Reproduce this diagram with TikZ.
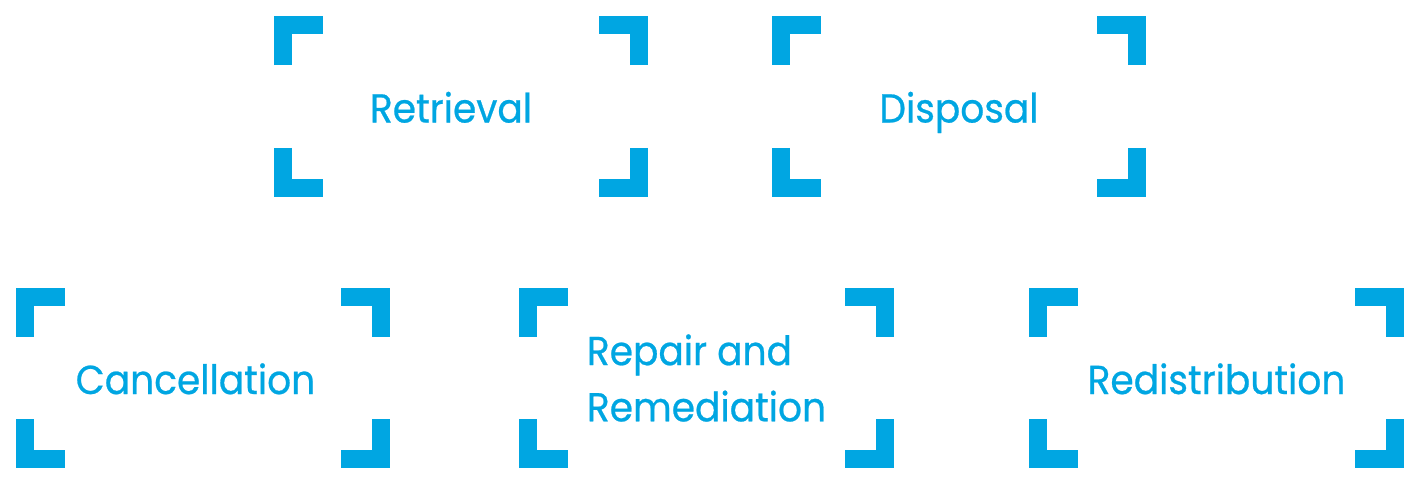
\documentclass[tikz,border=0pt]{standalone}
\usepackage{fontspec}
\setmainfont[FakeStretch=0.93, FakeBold=0.6]{Poppins}
\usetikzlibrary{positioning, calc}
\definecolor{celeste}{HTML}{00A6E2}
\tikzset{
  marco/.style={rectangle, minimum width=7.48cm, minimum height=3.6cm, inner sep=0pt,
                text=celeste, font=\fontsize{23pt}{32pt}\selectfont, align=left,
                text height=0.64cm, text depth=0cm},
  esquina/.style={line width=0.36cm, draw=celeste, miter limit=10, line cap=butt, line join=miter}
}

\begin{document}
\begin{tikzpicture}[x=0.02cm, y=-0.02cm]
  \useasboundingbox (0,0) rectangle (1416,477);
  \node (ret) [marco] at (461,106.5) {Retrieval\hspace*{0.4cm}};
  \node (dis) [marco] at (959,106.5) {Disposal};
  \node (can) [marco] at (203,378) {Cancellation\hspace*{0.3cm}};
  \node (rep) [marco, text height=, text depth=] at (706.5,378) {Repair and\\Remediation};
  \node (red) [marco] at (1216.5,378) {Redistribution};
  % corner brackets
  \foreach \n in {ret,dis,can,rep,red} {
    \draw [esquina] ($(\n.north west)+(9,49)$) |- ($(\n.north west)+(49,9)$);
    \draw [esquina] ($(\n.north east)+(-9,49)$) |- ($(\n.north east)+(-49,9)$);
    \draw [esquina] ($(\n.south west)+(9,-49)$) |- ($(\n.south west)+(49,-9)$);
    \draw [esquina] ($(\n.south east)+(-9,-49)$) |- ($(\n.south east)+(-49,-9)$);
  }
\end{tikzpicture}
\end{document}
